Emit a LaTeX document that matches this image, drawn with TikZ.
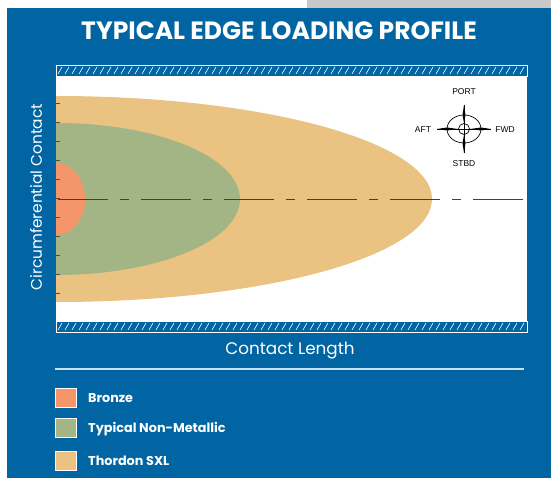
\documentclass[tikz,border=0pt]{standalone}
\usepackage{fontspec}
\setmainfont{Poppins}
\newfontfamily\compassfont{Liberation Sans}
\definecolor{panelblue}{HTML}{0065A2}
\definecolor{topgray}{HTML}{C8C8C9}
\definecolor{thordon}{HTML}{EAC282}
\definecolor{nonmetal}{HTML}{A3B585}
\definecolor{bronze}{HTML}{F4956A}
\tikzset{
  hatchbar/.style={fill=panelblue, draw=white, line width=0.8pt},
  key/.style={draw=white, line width=1pt, minimum width=21pt, minimum height=19pt, inner sep=0pt},
  keytext/.style={text=white, font=\bfseries\fontsize{12.8}{14}\selectfont, anchor=west, inner sep=0pt},
  dir/.style={font=\compassfont\fontsize{8.5}{10}\selectfont, inner sep=1pt},
}
\begin{document}
\begin{tikzpicture}[x=1pt,y=-1pt]
\useasboundingbox (0,0) rectangle (551,478);
\fill[topgray] (307,0) rectangle (551,8);
\fill[panelblue] (7,8) rectangle (551,478);
\fill[white] (56,65) rectangle (527,332);

% loading profiles
\begin{scope}
\clip (56,65) rectangle (527,332);
\fill[thordon] (56,199) ellipse [x radius=376pt, y radius=103pt];
\fill[nonmetal] (56,199) ellipse [x radius=184pt, y radius=76pt];
\fill[bronze] (56,199) ellipse [x radius=29pt, y radius=36pt];
\end{scope}

\foreach \k in {0,...,10}
  \draw[black!70, line width=0.8pt] (56,{103+19*\k}) -- +(4,0);
\draw[black!75, line width=0.9pt, dash pattern=on 50pt off 12pt on 9pt off 12pt] (58,199) -- (527,199);

% hatched bars
\draw[hatchbar] (56,65) rectangle (527,76);
\draw[hatchbar] (56,321) rectangle (527,332);
\foreach \x in {58,65,...,520} {
  \draw[white, line width=0.6pt] (\x,74) -- ({\x+4},67);
  \draw[white, line width=0.6pt] (\x,330) -- ({\x+4},323);
}

% compass
\coordinate (hub) at (464,129);
\draw[line width=0.7pt] (hub) ellipse [x radius=17pt, y radius=14pt];
\draw[line width=0.7pt] (hub) circle [radius=5.5pt];
\draw[line width=0.6pt] (437,129) -- (491,129);
\draw[line width=0.6pt] (464,105) -- (464,153);
\foreach \a/\e/\t in {0/17/27,90/14/24,180/17/27,270/14/24}
  \fill[shift={(464,129)}, rotate=\a] (6,0) -- (\e,-1.5) -- (\t,0) -- (\e,1.5) -- cycle;
\node[dir] (port) at (464,92) {PORT};
\node[dir] (aft) at (423,130) {AFT};
\node[dir] (fwd) at (505,130) {FWD};
\node[dir] (stbd) at (464,164) {STBD};

% titles
\node[text=white, font=\bfseries\fontsize{25}{28}\selectfont] (title) at (279,31) {TYPICAL EDGE LOADING PROFILE};
\node[text=white, rotate=90, font=\fontsize{15.4}{18}\selectfont] (ylabel) at (36,197) {Circumferential Contact};
\node[text=white, font=\fontsize{16.8}{19}\selectfont] (xlabel) at (290,351) {Contact Length};
\draw[white!80!panelblue, line width=1.2pt] (55,369) -- (524,369);

% key
\node[key, fill=bronze] (keybronze) at (66,397.5) {};
\node[key, fill=nonmetal] (keynonmetal) at (66,428) {};
\node[key, fill=thordon] (keythordon) at (66,461) {};
\node[keytext] (txtbronze) at (88,398) {Bronze};
\node[keytext] (txtnonmetal) at (88,429) {Typical Non-Metallic};
\node[keytext] (txtthordon) at (88,461) {Thordon SXL};
\end{tikzpicture}
\end{document}
